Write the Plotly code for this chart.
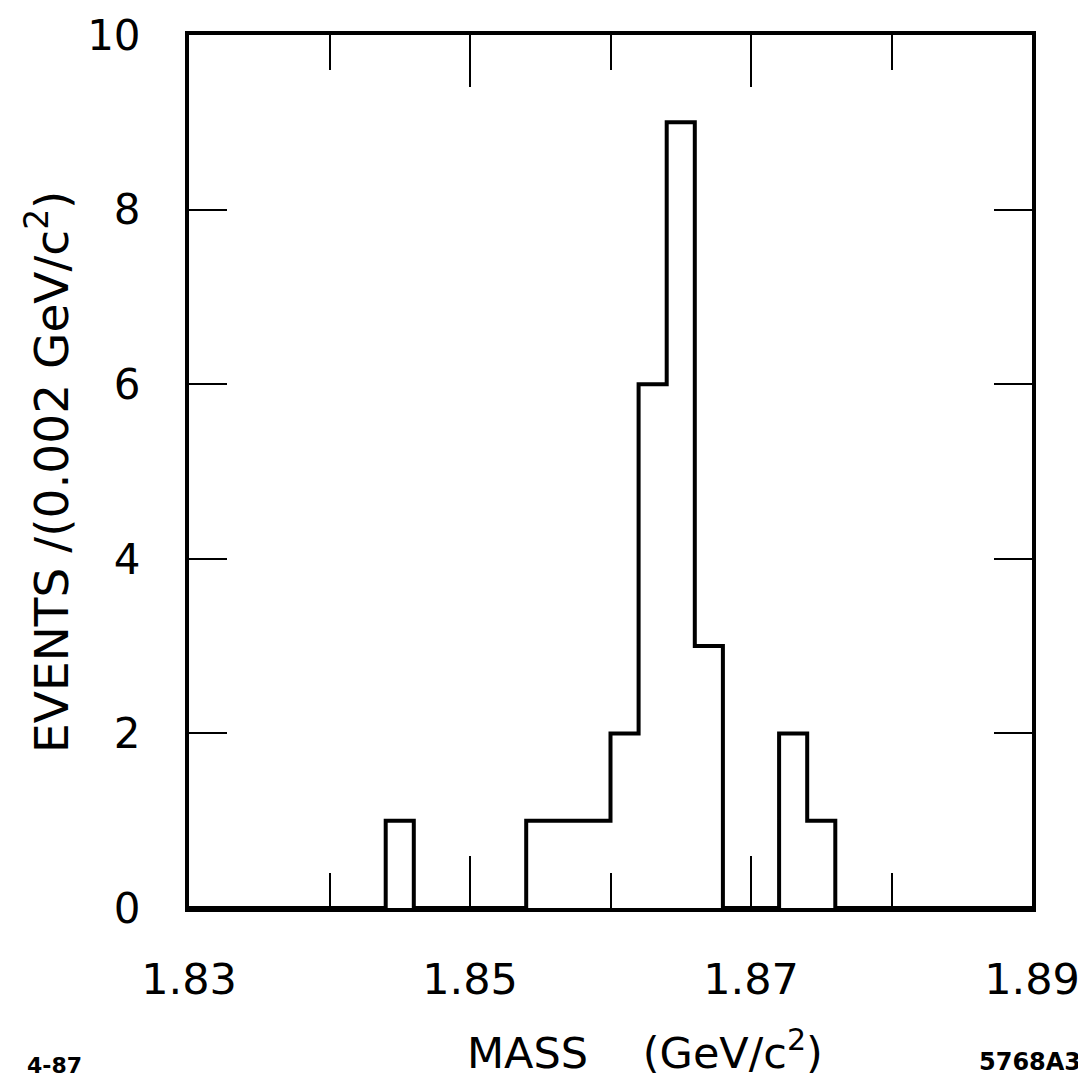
import plotly.graph_objects as go

# bin edges (GeV/c^2) and events per 0.002 GeV/c^2 bin
bin_edges = [1.830, 1.832, 1.834, 1.836, 1.838, 1.840, 1.842, 1.844, 1.846, 1.848,
             1.850, 1.852, 1.854, 1.856, 1.858, 1.860, 1.862, 1.864, 1.866, 1.868,
             1.870, 1.872, 1.874, 1.876, 1.878, 1.880, 1.882, 1.884, 1.886, 1.888,
             1.890]
counts = [0, 0, 0, 0, 0, 0, 0, 1, 0, 0,
          0, 0, 1, 1, 1, 2, 6, 9, 3, 0,
          0, 2, 1, 0, 0, 0, 0, 0, 0, 0]

x_labels = [1.83, 1.85, 1.87, 1.89]
x_minor = [1.84, 1.86, 1.88]
y_ticks = [0, 2, 4, 6, 8, 10]

font = "DejaVu Sans"

fig = go.Figure()

fig.add_trace(go.Scatter(
    x=bin_edges,
    y=counts + [counts[-1]],
    mode="lines",
    line=dict(color="black", width=4, shape="hv"),
    cliponaxis=False,
    showlegend=False,
))

fig.update_xaxes(
    range=[1.83, 1.89],
    tickvals=x_labels,
    ticktext=["1.83", "1.85", "1.87", "1.89"],
    ticks="inside", ticklen=52, tickwidth=2, tickcolor="black",
    minor=dict(tickvals=x_minor, ticks="inside", ticklen=35,
               tickwidth=2, tickcolor="black"),
    showline=True, linewidth=4, linecolor="black", mirror="ticks",
    showgrid=False, zeroline=False, automargin=False,
    tickfont=dict(family=font, size=43, color="black"),
    ticklabelstandoff=30, ticklabeloverflow="allow",
)

fig.update_yaxes(
    range=[0, 10],
    tickvals=y_ticks,
    ticks="inside", ticklen=38, tickwidth=2, tickcolor="black",
    showline=True, linewidth=4, linecolor="black", mirror="ticks",
    showgrid=False, zeroline=False, automargin=False,
    tickfont=dict(family=font, size=42, color="black"),
    ticklabelstandoff=36, ticklabeloverflow="allow",
)

fig.add_annotation(
    text="EVENTS /(0.002 GeV/c<sup>2</sup>)",
    xref="paper", yref="paper", x=-0.168, y=0.5,
    xanchor="center", yanchor="middle",
    textangle=-90, showarrow=False,
    font=dict(family=font, size=47, color="black"),
)
fig.add_annotation(
    text="MASS\u00a0\u00a0\u00a0\u00a0(GeV/c<sup>2</sup>)",
    xref="paper", yref="paper", x=0.541, y=-0.163,
    xanchor="center", yanchor="middle",
    showarrow=False,
    font=dict(family=font, size=43, color="black"),
)
fig.add_annotation(
    text="<b>4-87</b>", xref="paper", yref="paper",
    x=-0.160, y=-0.180, xanchor="center", yanchor="middle",
    showarrow=False,
    font=dict(family=font, size=22, color="black"),
)
fig.add_annotation(
    text="<b>5768A3</b>", xref="paper", yref="paper",
    x=1.06, y=-0.176, xanchor="right", yanchor="middle",
    showarrow=False,
    font=dict(family=font, size=24, color="black"),
)

fig.update_layout(
    width=1086, height=1083,
    margin=dict(l=181, r=62, t=27, b=183),
    plot_bgcolor="white", paper_bgcolor="white",
)

fig.write_html("out.html")
